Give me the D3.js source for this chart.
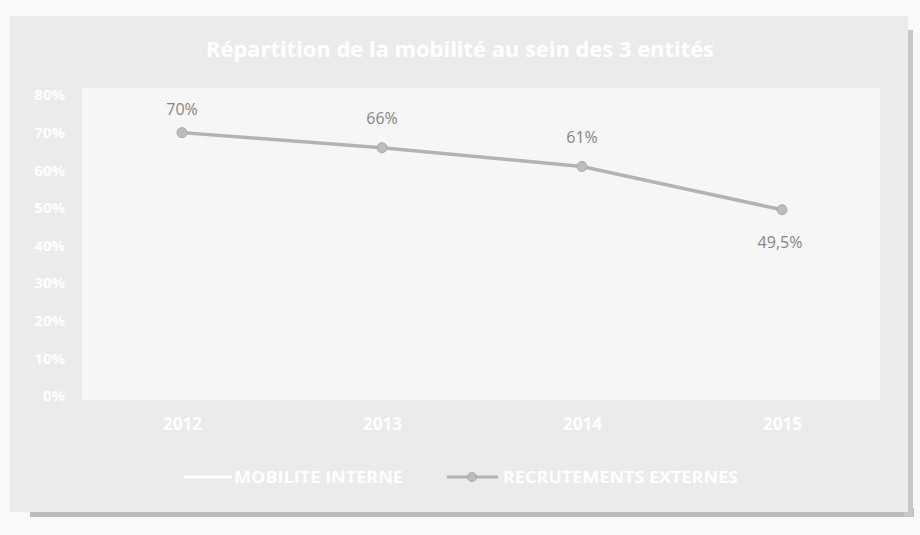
<!DOCTYPE html>
<html lang="fr">
<head>
<meta charset="utf-8">
<script src="https://d3js.org/d3.v7.min.js"></script>
<style>
  body { margin: 0; background: #f9f9f9; }
  text { font-family: "Open Sans", "Liberation Sans", sans-serif; }
</style>
</head>
<body>
<script>
// data
var years = ["2012", "2013", "2014", "2015"];
var recrutements = [70, 66, 61, 49.5];
var pointLabels = ["70%", "66%", "61%", "49,5%"];
var yTicks = [0, 10, 20, 30, 40, 50, 60, 70, 80];
var seriesNames = ["MOBILITE INTERNE", "RECRUTEMENTS EXTERNES"];
var title = "Répartition de la mobilité au sein des 3 entités";

var width = 920, height = 535;

var svg = d3.select("body").append("svg")
  .attr("width", width)
  .attr("height", height);

// scanned page: grey chart box with a thin dark shadow bottom and right
svg.append("rect").attr("x", 30).attr("y", 508).attr("width", 884).attr("height", 9).attr("fill", "#bcbcbc");
svg.append("rect").attr("x", 904).attr("y", 30).attr("width", 9).attr("height", 487).attr("fill", "#c8c8c8");
svg.append("rect").attr("x", 10).attr("y", 16).attr("width", 898).attr("height", 496).attr("fill", "#ebebeb");

var x = d3.scalePoint().domain(years).range([82, 882]).padding(0.5);
var y = d3.scaleLinear().domain([0, 80]).range([396, 95]);

// plot area
svg.append("rect")
  .attr("x", 82).attr("y", 88)
  .attr("width", 798).attr("height", 312)
  .attr("fill", "#f6f6f6");

// title
svg.append("text")
  .attr("x", 460).attr("y", 57)
  .attr("text-anchor", "middle")
  .attr("font-size", 22)
  .attr("font-weight", "bold")
  .attr("fill", "#ffffff")
  .attr("textLength", 508)
  .attr("lengthAdjust", "spacingAndGlyphs")
  .text(title);

// y axis labels
var yAxis = d3.axisLeft(y).tickValues(yTicks).tickSize(0).tickPadding(0)
  .tickFormat(function(d) { return d + "%"; });
var gy = svg.append("g").attr("transform", "translate(65,0)").call(yAxis);
gy.select(".domain").remove();
gy.selectAll("text")
  .attr("fill", "#ffffff")
  .attr("font-size", 15)
  .attr("font-weight", "bold")
  .style("font-family", "'Open Sans', sans-serif");

// x axis labels
var xAxis = d3.axisBottom(x).tickSize(0).tickPadding(0);
var gx = svg.append("g").attr("transform", "translate(0,418)").call(xAxis);
gx.select(".domain").remove();
gx.selectAll("text")
  .attr("fill", "#ffffff")
  .attr("font-size", 17)
  .attr("font-weight", "bold")
  .style("font-family", "'Open Sans', sans-serif");

// recrutements externes line
var line = d3.line()
  .x(function(d, i) { return x(years[i]); })
  .y(function(d) { return y(d); });

svg.append("path")
  .datum(recrutements)
  .attr("d", line)
  .attr("fill", "none")
  .attr("stroke", "#b3b3b3")
  .attr("stroke-width", 3.5);

svg.selectAll("circle.pt")
  .data(recrutements)
  .enter().append("circle")
  .attr("class", "pt")
  .attr("cx", function(d, i) { return x(years[i]); })
  .attr("cy", function(d) { return y(d); })
  .attr("r", 5)
  .attr("fill", "#bdbdbd")
  .attr("stroke", "#a9a9a9")
  .attr("stroke-width", 1);

// value labels, last one below the point
var labelDy = [-18, -24, -23, 38];
svg.selectAll("text.lbl")
  .data(recrutements)
  .enter().append("text")
  .attr("class", "lbl")
  .attr("x", function(d, i) { return x(years[i]) + (i == 3 ? -2 : 0); })
  .attr("y", function(d, i) { return y(d) + labelDy[i]; })
  .attr("text-anchor", "middle")
  .attr("font-size", 16)
  .attr("fill", "#858585")
  .text(function(d, i) { return pointLabels[i]; });

// legend
var lg = svg.append("g").attr("transform", "translate(0,477)");
lg.append("line").attr("x1", 184).attr("x2", 232).attr("y1", 0).attr("y2", 0)
  .attr("stroke", "#ffffff").attr("stroke-width", 3);
lg.append("text").attr("x", 234).attr("y", 6)
  .attr("font-size", 16).attr("font-weight", "bold").attr("fill", "#ffffff")
  .attr("textLength", 169).attr("lengthAdjust", "spacingAndGlyphs")
  .text(seriesNames[0]);
lg.append("line").attr("x1", 447).attr("x2", 498).attr("y1", 0).attr("y2", 0)
  .attr("stroke", "#b3b3b3").attr("stroke-width", 3);
lg.append("circle").attr("cx", 472).attr("cy", 0).attr("r", 4.5)
  .attr("fill", "#bdbdbd").attr("stroke", "#a9a9a9");
lg.append("text").attr("x", 503).attr("y", 6)
  .attr("font-size", 16).attr("font-weight", "bold").attr("fill", "#ffffff")
  .attr("textLength", 235).attr("lengthAdjust", "spacingAndGlyphs")
  .text(seriesNames[1]);
</script>
</body>
</html>
